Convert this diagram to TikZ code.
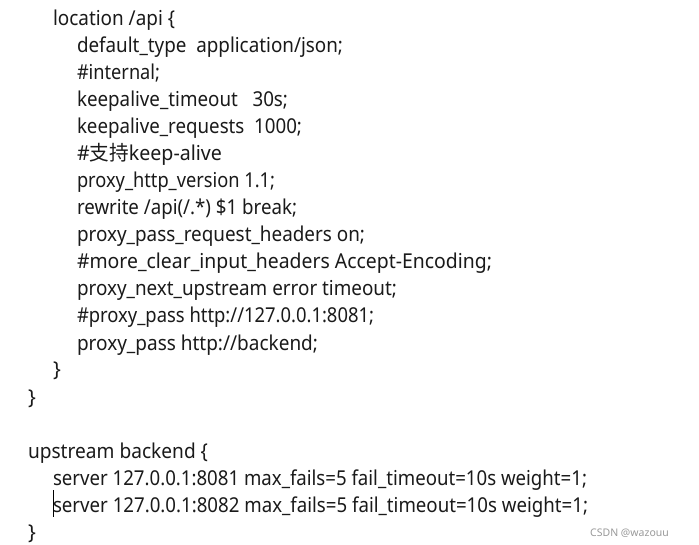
\documentclass[tikz,border=0pt]{standalone}
\usepackage{fontspec}
\usepackage{graphicx}
\setmainfont{Noto Sans}
\newfontfamily\cjkfont{Noto Sans CJK SC}
\definecolor{codetext}{HTML}{1A1A1A}
\definecolor{wmark}{HTML}{9A9A9A}
\newcommand\fitw[2]{\resizebox{#1pt}{\height}{#2}}
\begin{document}
\begin{tikzpicture}[x=1pt,y=-1pt,
  codeline/.style={anchor=base west,inner sep=0pt,outer sep=0pt,text=codetext,font=\fontsize{20.5}{24}\selectfont},
  watermark/.style={anchor=base west,inner sep=0pt,text=wmark,font=\fontsize{10.5}{12}\selectfont}]
\useasboundingbox[fill=white] (0,0) rectangle (699,545);
\node[codeline] (l0) at (53,26) {\fitw{122}{location /api \{}};
\node[codeline] (l1) at (77,53) {\fitw{266}{default\_type\ \ application/json;}};
\node[codeline] (l2) at (77,80) {\fitw{83}{\#internal;}};
\node[codeline] (l3) at (77,107) {\fitw{211}{keepalive\_timeout\ \ \ 30s;}};
\node[codeline] (l4) at (77,134) {\fitw{225}{keepalive\_requests\ \ 1000;}};
\node[codeline] (l5) at (77,161) {\fitw{145}{\#{\cjkfont 支持}keep-alive}};
\node[codeline] (l6) at (77,188) {\fitw{198}{proxy\_http\_version 1.1;}};
\node[codeline] (l7) at (77,215) {\fitw{220}{rewrite /api(/.*) \$1 break;}};
\node[codeline] (l8) at (77,242) {\fitw{288}{proxy\_pass\_request\_headers on;}};
\node[codeline] (l9) at (77,269) {\fitw{415}{\#more\_clear\_input\_headers Accept-Encoding;}};
\node[codeline] (l10) at (77,296) {\fitw{320}{proxy\_next\_upstream error timeout;}};
\node[codeline] (l11) at (77,323) {\fitw{297}{\#proxy\_pass http://127.0.0.1:8081;}};
\node[codeline] (l12) at (77,350) {\fitw{241}{proxy\_pass http://backend;}};
\node[codeline] (l13) at (53,377) {\}};
\node[codeline] (l14) at (28,404) {\}};
\node[codeline] (l16) at (28,458) {\fitw{180}{upstream backend \{}};
\node[codeline] (l17) at (53,485) {\fitw{534}{server 127.0.0.1:8081 max\_fails=5 fail\_timeout=10s weight=1;}};
\node[codeline] (l18) at (53,512) {\fitw{535}{server 127.0.0.1:8082 max\_fails=5 fail\_timeout=10s weight=1;}};
\node[codeline] (l19) at (28,539) {\}};
\coordinate (curtop) at (53.5,490);
\coordinate (curbot) at (53.5,517);
\draw[line width=1.2pt,black] (curtop) -- (curbot);
\node[watermark] (wm) at (590,536) {CSDN @wazouu};
\end{tikzpicture}
\end{document}
